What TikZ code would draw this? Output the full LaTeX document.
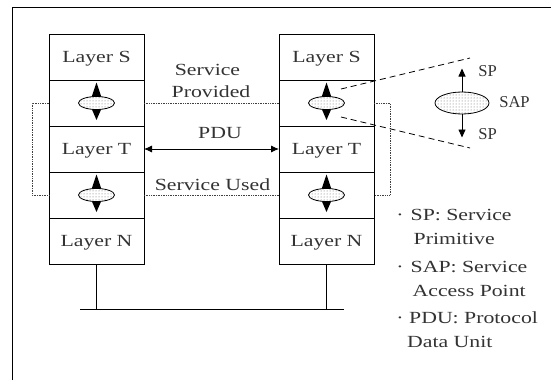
\documentclass[tikz,border=0pt]{standalone}
\usepackage{fontspec}
\setmainfont{Liberation Serif}[FakeStretch=1.28]
\newfontfamily\labfont{Liberation Serif}
\usetikzlibrary{arrows.meta,patterns,calc,shapes.geometric}
\begin{document}
\begin{tikzpicture}[x=1pt,y=-1pt,
  txt/.style={font=\fontsize{17}{20}\selectfont, text=black!80, inner sep=0pt, text height=11.5pt, text depth=0pt},
  layerbox/.style={txt, draw=black, line width=0.9pt, minimum width=95pt, minimum height=46pt, outer sep=0pt},
  sap/.style={ellipse, draw=black, line width=0.8pt, minimum width=36pt, minimum height=13pt, inner sep=0pt, preaction={fill=white}, pattern=dots, pattern color=black!60},
  bigsap/.style={sap, minimum width=54pt, minimum height=22pt},
  svc/.style={densely dotted, line width=0.7pt, draw=black!75},
  zoomline/.style={dashed, dash pattern=on 6pt off 4pt, line width=0.8pt},
  lab/.style={font=\labfont\fontsize{16.6}{18}\selectfont, text=black!80, inner sep=0pt, text height=11pt, text depth=0pt},
  arr/.style={line width=0.8pt, -{Triangle[length=8pt,width=7pt]}},
  pdu/.style={line width=0.8pt, {Latex[length=8pt,width=7pt]}-{Latex[length=8pt,width=7pt]}},
  frame/.style={line width=1pt},
  net/.style={line width=0.9pt}]
\useasboundingbox (0,0) rectangle (551,380);
% frame
\coordinate (f1) at (12.3,380);
\coordinate (f2) at (12.3,7.3);
\coordinate (f3) at (551,7.3);
\draw[frame] (f1) -- (f2) -- (f3);
% dotted service lines (behind boxes)
\coordinate (lt) at (32,103);
\coordinate (lb) at (32,195);
\coordinate (rt) at (390,103);
\coordinate (rb) at (390,195);
% stacks
\node[layerbox] (LS1) at (96.5,57) {Layer S};
\node[layerbox] (LS2) at (96.5,103) {};
\node[layerbox] (LS3) at (96.5,149) {Layer T};
\node[layerbox] (LS4) at (96.5,195) {};
\node[layerbox] (LS5) at (96.5,241) {Layer N};
\node[layerbox] (RS1) at (326.5,57) {Layer S};
\node[layerbox] (RS2) at (326.5,103) {};
\node[layerbox] (RS3) at (326.5,149) {Layer T};
\node[layerbox] (RS4) at (326.5,195) {};
\node[layerbox] (RS5) at (326.5,241) {Layer N};
\draw[svc] (LS2.west) -- (lt) -- (lb) -- (LS4.west);
\draw[svc] (LS2.east) -- (RS2.west);
\draw[svc] (LS4.east) -- (RS4.west);
\draw[svc] (RS2.east) -- (rt) -- (rb) -- (RS4.east);
% SAP symbols in stacks
\foreach \n in {LS2,LS4,RS2,RS4}{
  \fill[black] ($(\n.center)+(0,-20.5)$) -- ($(\n.center)+(5.2,-5)$) -- ($(\n.center)+(-5.2,-5)$) -- cycle;
  \fill[black] ($(\n.center)+(0,17)$) -- ($(\n.center)+(5.2,5)$) -- ($(\n.center)+(-5.2,5)$) -- cycle;
  \node[sap] (e\n) at (\n.center) {};
}
% labels between stacks
\node[txt] (sp1) at (207.5,70) {Service};
\node[txt] (sp2) at (211,91.5) {Provided};
\node[txt] (pdut) at (220,133) {PDU};
\node[txt] (su) at (212.5,184.5) {Service Used};
\draw[pdu] (LS3.east) -- (RS3.west);
% network
\coordinate (nl) at (80,309);
\coordinate (nr) at (344,309);
\coordinate (nla) at (96.5,309);
\coordinate (nra) at (326.5,309);
\draw[net] (nl) -- (nr);
\draw[net] (LS5.south) -- (nla);
\draw[net] (RS5.south) -- (nra);
% zoom of SAP
\coordinate (z1s) at (341,89);
\coordinate (z1e) at (470,58);
\coordinate (z2s) at (341,117);
\coordinate (z2e) at (470,148);
\draw[zoomline] (z1s) -- (z1e);
\draw[zoomline] (z2s) -- (z2e);
\node[bigsap] (big) at (462,103) {};
\coordinate (upt) at (462,68.5);
\coordinate (dnt) at (462,137.5);
\draw[arr] (big.north) -- (upt);
\draw[arr] (big.south) -- (dnt);
\node[lab] (spu) at (487.5,71) {SP};
\node[lab] (sapl) at (514.5,102) {SAP};
\node[lab] (spd) at (487.5,134) {SP};
% legend
\node[txt] (b1) at (400,215) {·};
\node[txt] (b2) at (400,267) {·};
\node[txt] (b3) at (400,318) {·};
\node[txt, anchor=west] (l1) at (410.5,215) {SP: Service};
\node[txt, anchor=west] (l2) at (413.5,238.5) {Primitive};
\node[txt, anchor=west] (l3) at (410.5,267) {SAP: Service};
\node[txt, anchor=west] (l4) at (412.5,290.5) {Access Point};
\node[txt, anchor=west] (l5) at (409,318) {PDU: Protocol};
\node[txt, anchor=west] (l6) at (407,342) {Data Unit};
\end{tikzpicture}
\end{document}
